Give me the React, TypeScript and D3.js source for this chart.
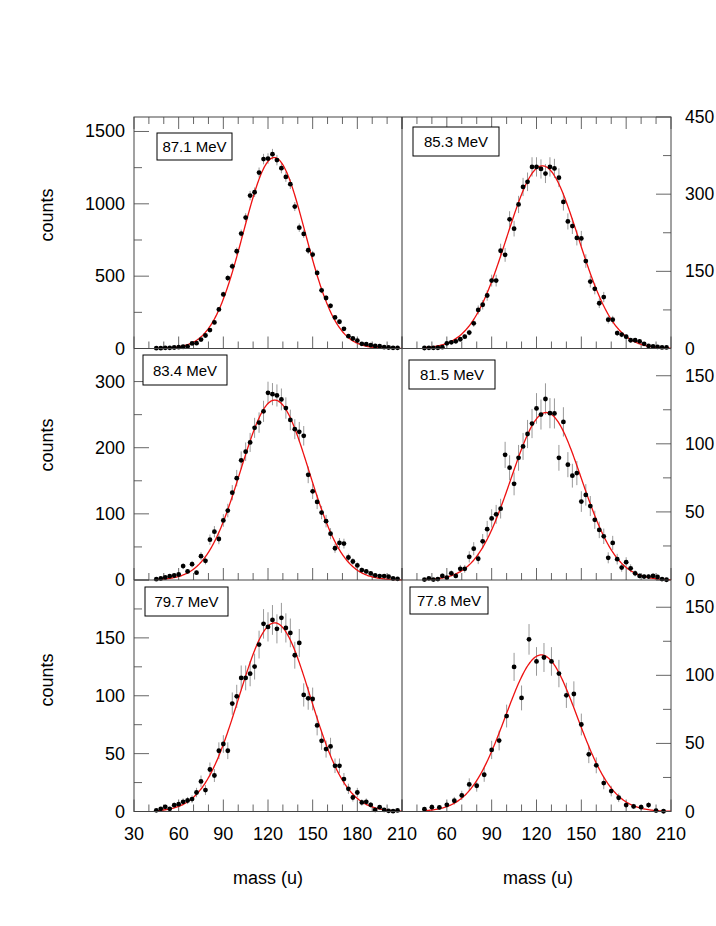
import React from "react";
import * as d3 from "d3";

// ---------- data ----------
const massStep3 = [45, 48, 51, 54, 57, 60, 63, 66, 69, 72, 75, 78, 81, 84, 87, 90, 93, 96, 99, 102, 105, 108, 111, 114, 117, 120, 123, 126, 129, 132, 135, 138, 141, 144, 147, 150, 153, 156, 159, 162, 165, 168, 171, 174, 177, 180, 183, 186, 189, 192, 195, 198, 201, 204, 207];
const massStep5 = [45, 50, 55, 60, 65, 70, 75, 80, 85, 90, 95, 100, 105, 110, 115, 120, 125, 130, 135, 140, 145, 150, 155, 160, 165, 170, 175, 180, 185, 190, 195, 200, 205];

const counts871 = [2, 2, 5, 5, 7, 9, 12, 14, 35, 37, 62, 90, 127, 180, 270, 374, 487, 568, 672, 794, 905, 1057, 1080, 1216, 1309, 1313, 1343, 1302, 1246, 1186, 1136, 981, 835, 792, 679, 649, 522, 402, 349, 295, 215, 185, 136, 85, 69, 55, 32, 30, 23, 18, 16, 9, 7, 5, 5];
const counts853 = [1, 1.3, 1.3, 1.5, 2.6, 10, 12, 14, 18, 23, 31, 49, 75, 85, 103, 132, 132, 190, 182, 251, 233, 280, 314, 324, 353, 353, 349, 340, 353, 350, 332, 285, 247, 238, 215, 214, 170, 130, 116, 88, 100, 56, 56, 30, 27, 23, 16, 16, 14, 9, 5, 4, 3, 2, 2];
const counts834 = [1.3, 2.3, 3.8, 5.8, 6.8, 8.3, 21, 13, 24, 11, 36, 29, 61, 73, 62, 90, 105, 132, 154, 181, 194, 208, 230, 238, 255, 283, 281, 279, 273, 260, 242, 228, 224, 218, 159, 134, 118, 102, 89, 70, 48, 56, 55, 34, 28, 22, 15, 13, 10, 7, 6, 6, 5, 2.3, 1.8];
const counts815 = [0.3, 1.2, 0.3, 0.7, 3, 1.7, 4.9, 3, 8.2, 8.2, 17, 23, 15.6, 28.4, 37.3, 45.2, 48.2, 52.4, 91.9, 82.5, 70.6, 89.7, 98.1, 107.2, 114.9, 126, 121.5, 132.9, 122.5, 122.3, 89.7, 116.1, 84.7, 76.6, 78.5, 57.6, 62.5, 54.3, 44.2, 36.8, 32.1, 16.3, 27.2, 15.3, 9.1, 13.1, 8.6, 4.9, 3, 2.5, 2.5, 3, 2.2, 0.7, 0.2];
const counts797 = [1, 2.3, 4, 2.3, 5.5, 6.3, 8.4, 9.5, 10.7, 16.4, 26, 18.5, 36.3, 31.1, 52.5, 58.3, 52.5, 93.2, 99.5, 115.4, 115.4, 119.1, 125.2, 144.2, 162.1, 159.5, 165.5, 157.8, 167.3, 158.6, 154.3, 135, 145.6, 100.7, 97.8, 97.2, 74.4, 61.1, 53.9, 56.2, 39.5, 39.5, 28, 19.6, 12.1, 16.4, 7.8, 8.4, 5.8, 1.4, 3.7, 1.4, 0.6, 0.3, 0.9];
const counts778 = [1.7, 3.2, 3, 4.9, 7.9, 11.8, 19.9, 18.9, 27, 45.2, 52.1, 70.1, 106.2, 83.4, 126.4, 110.2, 113.1, 110.2, 101.3, 85.3, 86.3, 63.9, 42, 33.9, 20.9, 15, 10.1, 4.7, 3.7, 3.2, 4.7, 0.7, 0.2];

const energyLabels = ["87.1 MeV", "85.3 MeV", "83.4 MeV", "81.5 MeV", "79.7 MeV", "77.8 MeV"];
// Gaussian fit parameters (amplitude, centroid, width)
const fitAmp = [1320, 355, 272, 123, 163, 115];
const fitMean = [124.2, 124.0, 124.5, 126.5, 124.5, 123.2];
const fitSigma = [20.8, 24, 23, 23.5, 24, 24];

const yMaxes = [1600, 450, 350, 170, 200, 170];
const yTickSteps = [250, 75, 50, 25, 25, 25];
const yMajorSteps = [500, 150, 100, 50, 50, 50];
const yLabelsTL = [0, 500, 1000, 1500];
const yLabelsTR = [0, 150, 300, 450];
const yLabelsML = [0, 100, 200, 300];
const yLabelsMR = [0, 50, 100, 150];
const yLabelsBL = [0, 50, 100, 150];
const yLabelsBR = [0, 50, 100, 150];
const xLabelsLeft = [30, 60, 90, 120, 150, 180, 210];
const xLabelsRight = [60, 90, 120, 150, 180, 210];

// ---------- layout ----------
const W = 716;
const H = 926;
const colX = [134, 402];
const colW = [268, 269];
const rowY = [117, 348.5, 580];
const rowH = 231.5;
const labelBoxes = [
  [157, 133, 75, 27],
  [413, 127, 86, 29],
  [143, 355, 84, 30],
  [409, 360, 86, 29],
  [145, 587, 83, 29],
  [410, 587, 78, 27],
];
const FONT = "'Liberation Sans', Arial, Helvetica, sans-serif";
const TICK_FS = 18;

const panels = [
  { col: 0, row: 0, mass: massStep3, counts: counts871, yLabels: yLabelsTL },
  { col: 1, row: 0, mass: massStep3, counts: counts853, yLabels: yLabelsTR },
  { col: 0, row: 1, mass: massStep3, counts: counts834, yLabels: yLabelsML },
  { col: 1, row: 1, mass: massStep3, counts: counts815, yLabels: yLabelsMR },
  { col: 0, row: 2, mass: massStep3, counts: counts797, yLabels: yLabelsBL },
  { col: 1, row: 2, mass: massStep5, counts: counts778, yLabels: yLabelsBR },
];

function Panel({ p, i }: { p: any; i: number }) {
  const x0 = colX[p.col];
  const w = colW[p.col];
  const y0 = rowY[p.row];
  const x = d3.scaleLinear().domain([30, 210]).range([x0, x0 + w]);
  const y = d3.scaleLinear().domain([0, yMaxes[i]]).range([y0 + rowH, y0]);
  const gauss = (m: number) =>
    fitAmp[i] * Math.exp(-0.5 * Math.pow((m - fitMean[i]) / fitSigma[i], 2));
  const curveX = d3.range(45, 210.01, 0.5);
  const line = d3
    .line<number>()
    .x((m) => x(m))
    .y((m) => y(gauss(m)))
    .curve(d3.curveLinear);

  const xTicks = d3.range(30, 210.1, 10);
  const yTicks = d3.range(0, yMaxes[i] + 0.01, yTickSteps[i]);
  const isLeft = p.col === 0;
  const axisX = isLeft ? x0 : x0 + w;
  const dir = isLeft ? 1 : -1;
  const box = labelBoxes[i];
  const bottomY = y0 + rowH;

  return (
    <g>
      {xTicks.map((t) => {
        const major = Math.round(t) % 30 === 0;
        const len = major ? 12 : 7;
        return (
          <line key={"xb" + t} x1={x(t)} x2={x(t)} y1={bottomY} y2={bottomY - len} stroke="#666" strokeWidth={1} />
        );
      })}
      {p.row === 0 &&
        xTicks.map((t) => {
          const major = Math.round(t) % 30 === 0;
          const len = major ? 12 : 7;
          return <line key={"xt" + t} x1={x(t)} x2={x(t)} y1={y0} y2={y0 + len} stroke="#666" strokeWidth={1} />;
        })}
      {yTicks.map((t) => {
        const major = Math.abs(t / yMajorSteps[i] - Math.round(t / yMajorSteps[i])) < 1e-6;
        const len = major ? 15 : 8;
        return <line key={"y" + t} x1={axisX} x2={axisX + dir * len} y1={y(t)} y2={y(t)} stroke="#666" strokeWidth={1} />;
      })}
      {p.yLabels.map((t: number) => (
        <text
          key={"yl" + t}
          x={isLeft ? axisX - 9 : axisX + 14}
          y={y(t)}
          textAnchor={isLeft ? "end" : "start"}
          dominantBaseline="central"
          fontSize={isLeft ? TICK_FS : 17.5}
          fontFamily={FONT}
          fill="#000"
        >
          {t}
        </text>
      ))}
      {p.mass.map((m: number, k: number) => {
        const v = p.counts[k];
        const e = Math.sqrt(Math.max(v, 0));
        return <line key={"e" + k} x1={x(m)} x2={x(m)} y1={y(v + e)} y2={y(Math.max(v - e, 0))} stroke="#999" strokeWidth={1} />;
      })}
      <path d={line(curveX) || ""} fill="none" stroke="#ee1111" strokeWidth={1.3} />
      {p.mass.map((m: number, k: number) => (
        <circle key={"c" + k} cx={x(m)} cy={y(p.counts[k])} r={2.4} fill="#000" />
      ))}
      <rect x={box[0]} y={box[1]} width={box[2]} height={box[3]} fill="#fff" stroke="#000" strokeWidth={1} />
      <text
        x={box[0] + box[2] / 2}
        y={box[1] + box[3] / 2}
        textAnchor="middle"
        dominantBaseline="central"
        fontSize={15}
        fontFamily={FONT}
        fill="#000"
      >
        {energyLabels[i]}
      </text>
    </g>
  );
}

export default function App() {
  const bottom = rowY[2] + rowH;
  const xl = d3.scaleLinear().domain([30, 210]).range([colX[0], colX[0] + colW[0]]);
  const xr = d3.scaleLinear().domain([30, 210]).range([colX[1], colX[1] + colW[1]]);
  return (
    <svg
      width={W}
      height={H}
      viewBox={`0 0 ${W} ${H}`}
      style={{ position: "absolute", left: 0, top: 0, display: "block", background: "#fff" }}
    >
      <rect x={0} y={0} width={W} height={H} fill="#fff" />
      {panels.map((p, i) => (
        <Panel key={i} p={p} i={i} />
      ))}
      <rect x={colX[0]} y={rowY[0]} width={colW[0] + colW[1]} height={rowH * 3} fill="none" stroke="#444" strokeWidth={1} />
      <line x1={colX[1]} x2={colX[1]} y1={rowY[0]} y2={bottom} stroke="#333" strokeWidth={1} />
      <line x1={colX[0]} x2={colX[1] + colW[1]} y1={rowY[1]} y2={rowY[1]} stroke="#444" strokeWidth={1} />
      <line x1={colX[0]} x2={colX[1] + colW[1]} y1={rowY[2]} y2={rowY[2]} stroke="#444" strokeWidth={1} />
      {xLabelsLeft.map((t) => (
        <text key={"bl" + t} x={xl(t)} y={bottom + 28} textAnchor="middle" fontSize={TICK_FS} fontFamily={FONT}>
          {t}
        </text>
      ))}
      {xLabelsRight.map((t) => (
        <text key={"br" + t} x={xr(t)} y={bottom + 28} textAnchor="middle" fontSize={TICK_FS} fontFamily={FONT}>
          {t}
        </text>
      ))}
      <text x={268} y={884} textAnchor="middle" fontSize={18} fontFamily={FONT}>
        mass (u)
      </text>
      <text x={538} y={884} textAnchor="middle" fontSize={18} fontFamily={FONT}>
        mass (u)
      </text>
      {[215, 445, 680].map((cy, j) => (
        <text
          key={"cl" + j}
          transform={`translate(47,${cy}) rotate(-90)`}
          textAnchor="middle"
          dominantBaseline="central"
          fontSize={18}
          fontFamily={FONT}
        >
          counts
        </text>
      ))}
    </svg>
  );
}
